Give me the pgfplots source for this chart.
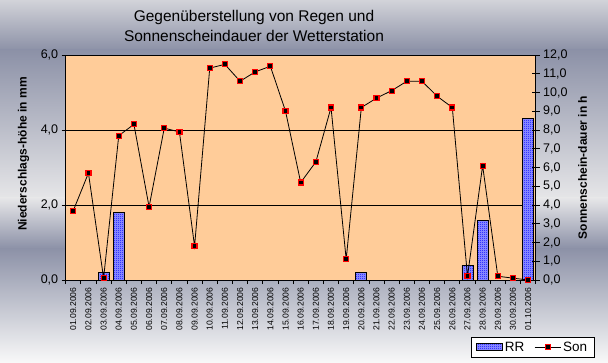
\documentclass[border=0pt]{standalone}
\usepackage{fontspec}
\setmainfont{Liberation Sans}
\usepackage{pgfplots}
\pgfplotsset{compat=1.18}
\usetikzlibrary{patterns}
\definecolor{peach}{HTML}{FFCC99}
\definecolor{bgdark}{HTML}{8C91A7}
\definecolor{bglight}{HTML}{E6E6E8}
\definecolor{bgtop}{HTML}{D2D3D9}
\definecolor{bgbot}{HTML}{F8F8F8}
\definecolor{rrfill}{HTML}{9A9AFF}
\pgfdeclarepatternformonly{checker}{\pgfpointorigin}{\pgfpoint{2pt}{2pt}}{\pgfpoint{2pt}{2pt}}{%
 \pgfpathrectangle{\pgfpointorigin}{\pgfpoint{1pt}{1pt}}%
 \pgfpathrectangle{\pgfpoint{1pt}{1pt}}{\pgfpoint{1pt}{1pt}}%
 \pgfusepath{fill}}
\pgfplotsset{
 sonlegend/.style={legend image code/.code={\draw[mark repeat=2, mark phase=2, ##1] plot coordinates {(0pt,0pt) (13pt,0pt) (26pt,0pt)};}},
 rrlegend/.style={legend image code/.code={\draw[draw=black, line width=0.8pt, fill=rrfill, postaction={pattern=checker, pattern color=blue}] (0pt,-3.5pt) rectangle (26pt,3.5pt);}},
}

\pgfplotstableread{
x rr son
0 0.0 3.7
1 0.0 5.7
2 0.2 0.1
3 1.8 7.7
4 0.0 8.3
5 0.0 3.9
6 0.0 8.1
7 0.0 7.9
8 0.0 1.8
9 0.0 11.3
10 0.0 11.5
11 0.0 10.6
12 0.0 11.1
13 0.0 11.4
14 0.0 9.0
15 0.0 5.2
16 0.0 6.3
17 0.0 9.2
18 0.0 1.1
19 0.2 9.2
20 0.0 9.7
21 0.0 10.1
22 0.0 10.6
23 0.0 10.6
24 0.0 9.8
25 0.0 9.2
26 0.4 0.2
27 1.6 6.1
28 0.0 0.2
29 0.0 0.1
30 4.3 0.0
}\wetter

\begin{document}
\begin{tikzpicture}
\useasboundingbox (0pt,0pt) rectangle (608pt,362pt);
\shade[top color=bgtop, bottom color=bgdark] (0pt,311.5pt) rectangle (608pt,362pt);
\shade[top color=bgdark, bottom color=bglight] (0pt,163.5pt) rectangle (608pt,312pt);
\shade[top color=bglight, bottom color=bgdark] (0pt,113.5pt) rectangle (608pt,164pt);
\shade[top color=bgdark, bottom color=bgbot] (0pt,0pt) rectangle (608pt,114pt);

\begin{axis}[
 at={(65.7pt,82pt)}, anchor=south west, scale only axis, width=470pt, height=225pt,
 xmin=-0.5, xmax=30.5, ymin=0, ymax=6,
 axis background/.style={fill=peach},
 axis line style={black, line width=0.8pt},
 ytick={0,2,4,6}, ytick pos=left, xtick pos=bottom,
 tick align=outside, major tick length=4pt, minor tick length=4pt,
 tick style={black, line width=0.8pt},
 ymajorgrids, grid style={black, line width=0.8pt},
 xtick={0,...,30},
 xticklabels={01.09.2006,02.09.2006,03.09.2006,04.09.2006,05.09.2006,06.09.2006,07.09.2006,08.09.2006,09.09.2006,10.09.2006,11.09.2006,12.09.2006,13.09.2006,14.09.2006,15.09.2006,16.09.2006,17.09.2006,18.09.2006,19.09.2006,20.09.2006,21.09.2006,22.09.2006,23.09.2006,24.09.2006,25.09.2006,26.09.2006,27.09.2006,28.09.2006,29.09.2006,30.09.2006,01.10.2006},
 major x tick style={draw=none},
 minor xtick={-0.5,0.5,...,30.5},
 xticklabel style={rotate=90, anchor=east, font=\fontsize{8.6}{10}\selectfont},
 yticklabel style={font=\fontsize{12.5}{14}\selectfont},
 /pgf/number format/.cd, fixed, fixed zerofill, precision=1, use comma, assume math mode=true,
 /pgfplots/.cd,
 ylabel={Niederschlags-höhe in mm},
 every axis y label/.style={at={(axis description cs:-0.0898,0.56)}, rotate=90, anchor=center, font=\bfseries\fontsize{12}{14}\selectfont},
]
\addplot[ybar, bar width=11pt, draw=black, line width=0.8pt, fill=rrfill, postaction={pattern=checker, pattern color=blue}] table[x=x, y=rr] {\wetter};
\end{axis}

\begin{axis}[
 at={(65.7pt,82pt)}, anchor=south west, scale only axis, width=470pt, height=225pt,
 xmin=-0.5, xmax=30.5, ymin=0, ymax=12,
 axis x line=none, axis y line*=right,
 axis line style={black, line width=0.8pt, -},
 ytick={0,1,...,12}, tick align=center, major tick length=8pt,
 tick style={black, line width=0.8pt},
 yticklabel style={font=\fontsize{12.5}{14}\selectfont},
 /pgf/number format/.cd, fixed, fixed zerofill, precision=1, use comma, assume math mode=true,
 /pgfplots/.cd,
 ylabel={Sonnenschein-dauer in h},
 every axis y label/.style={at={(axis description cs:1.0996,0.5)}, rotate=90, anchor=center, font=\bfseries\fontsize{12}{14}\selectfont},
 title={Gegenüberstellung von Regen und\\Sonnenscheindauer der Wetterstation},
 title style={at={(axis description cs:0.4006,1.102)}, anchor=center, align=center, font=\fontsize{15.5}{20.5}\selectfont},
 legend columns=2,
 legend style={at={(axis description cs:0.862,-0.3436)}, anchor=south west, draw=black, fill=white, font=\fontsize{13.5}{15}\selectfont, inner xsep=5pt, inner ysep=2.5pt, /tikz/every even column/.append style={column sep=8pt}},
]
\addlegendimage{rrlegend}
\addlegendentry{RR}
\addplot[black, line width=0.8pt, mark=square*, mark size=2.5pt, mark options={fill=black, draw=red, line width=1.2pt}, sonlegend]
 table[x=x, y=son] {\wetter};
\addlegendentry{Son}
\end{axis}
\end{tikzpicture}
\end{document}
